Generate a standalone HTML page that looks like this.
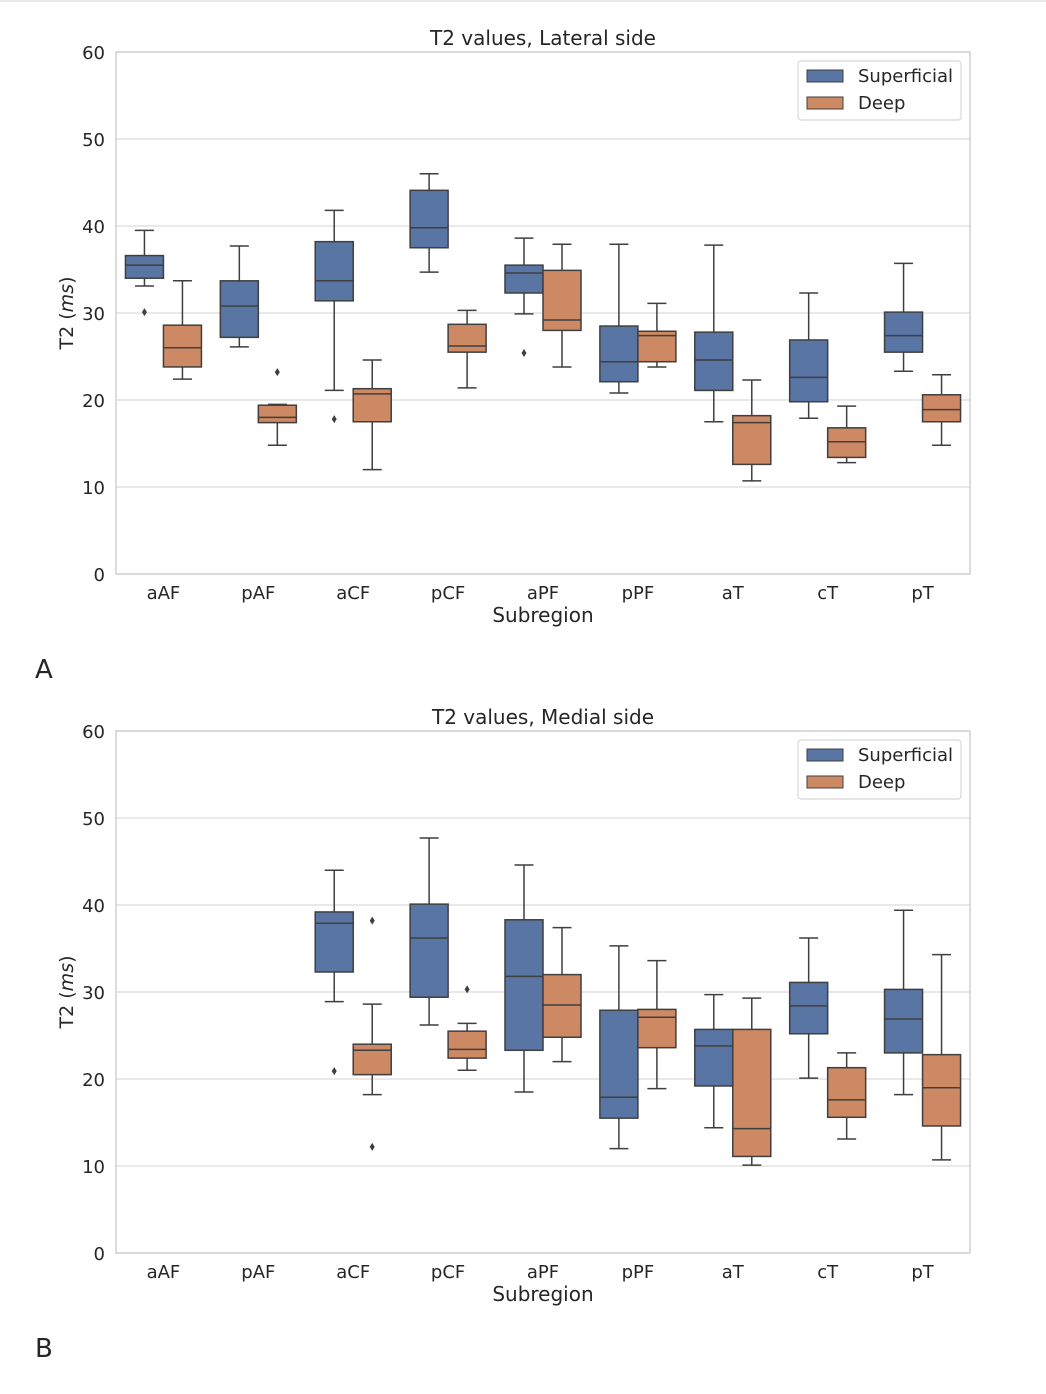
<!DOCTYPE html>
<html><head><meta charset="utf-8"><style>
body{margin:0;background:#fff;}
svg text{font-family:"DejaVu Sans","Liberation Sans",sans-serif;fill:#262626;}
</style></head><body>
<svg id="svg" width="1046" height="1389" xmlns="http://www.w3.org/2000/svg">
<rect x="0" y="0" width="1046" height="1389" fill="#fff"/>
<rect x="0" y="0" width="1046" height="2" fill="#e8e8e8"/>
<text x="35" y="678" font-size="26">A</text>
<text x="35" y="1357" font-size="26">B</text>
</svg>
<script>
const categories=["aAF","pAF","aCF","pCF","aPF","pPF","aT","cT","pT"];
const yTicks=[0,10,20,30,40,50,60];
// [low, q1, median, q3, high]
const latSup=[[33.1,34.0,35.5,36.6,39.5],[26.1,27.2,30.8,33.7,37.7],[21.1,31.4,33.7,38.2,41.8],[34.7,37.5,39.8,44.1,46.0],[29.9,32.3,34.6,35.5,38.6],[20.8,22.1,24.4,28.5,37.9],[17.5,21.1,24.6,27.8,37.8],[17.9,19.8,22.6,26.9,32.3],[23.3,25.5,27.4,30.1,35.7]];
const latDeep=[[22.4,23.8,26.0,28.6,33.7],[14.8,17.4,18.0,19.4,19.5],[12.0,17.5,20.7,21.3,24.6],[21.4,25.5,26.2,28.7,30.3],[23.8,28.0,29.2,34.9,37.9],[23.8,24.4,27.4,27.9,31.1],[10.7,12.6,17.4,18.2,22.3],[12.8,13.4,15.2,16.8,19.3],[14.8,17.5,18.9,20.6,22.9]];
const latSupOut=[[30.1],[],[17.8],[],[25.4],[],[],[],[]];
const latDeepOut=[[],[23.2],[],[],[],[],[],[],[]];
const medSup=[null,null,[28.9,32.3,37.9,39.2,44.0],[26.2,29.4,36.2,40.1,47.7],[18.5,23.3,31.8,38.3,44.6],[12.0,15.5,17.9,27.9,35.3],[14.4,19.2,23.8,25.7,29.7],[20.1,25.2,28.4,31.1,36.2],[18.2,23.0,26.9,30.3,39.4]];
const medDeep=[null,null,[18.2,20.5,23.3,24.0,28.6],[21.0,22.4,23.4,25.5,26.4],[22.0,24.8,28.5,32.0,37.4],[18.9,23.6,27.1,28.0,33.6],[10.1,11.1,14.3,25.7,29.3],[13.1,15.6,17.6,21.3,23.0],[10.7,14.6,19.0,22.8,34.3]];
const medSupOut=[[],[],[20.9],[],[],[],[],[],[]];
const medDeepOut=[[],[],[38.2,12.2],[30.3],[],[],[],[],[]];

const NS="http://www.w3.org/2000/svg";
const svg=document.getElementById('svg');
function mk(tag,attrs,parent){const e=document.createElementNS(NS,tag);for(const k in attrs)e.setAttribute(k,attrs[k]);(parent||svg).appendChild(e);return e;}
const X0=116,X1=970,BW=(X1-X0)/categories.length;
function drawChart(top,title,sup,deep,supOut,deepOut,key){
  const bottom=top+522;
  const y=v=>bottom-(v/60)*(bottom-top);
  const xc=i=>X0+BW*(i+0.5);
  const g=mk('g',{});
  
  
  yTicks.forEach(t=>{
    const l=mk('line',{x1:X0,x2:X1,y1:y(t),y2:y(t),stroke:'#dcdcdc','stroke-width':1.2},g);
    
    
    const tx=mk('text',{x:105,y:y(t)+7,'font-size':18,'text-anchor':'end'},g);
    tx.textContent=t;
    
    
  });
  const fr=mk('rect',{x:X0,y:top,width:X1-X0,height:bottom-top,fill:'none',stroke:'#d0d0d0','stroke-width':1.5},g);
  
  
  const tt=mk('text',{x:(X0+X1)/2,y:top-7,'font-size':20,'text-anchor':'middle'},g);
  tt.textContent=title;
  
  
  categories.forEach((c,i)=>{
    const tx=mk('text',{x:xc(i),y:bottom+25,'font-size':18,'text-anchor':'middle'},g);
    tx.textContent=c;
    
    
  });
  const xl=mk('text',{x:(X0+X1)/2,y:bottom+48,'font-size':20,'text-anchor':'middle'},g);
  xl.textContent='Subregion';
  
  
  const yl=mk('text',{x:0,y:0,'font-size':19,'text-anchor':'middle',transform:`translate(73,${(top+bottom)/2}) rotate(-90)`},g);
  yl.innerHTML='T2 (<tspan font-style="italic">ms</tspan>)';
  
  
  const bw=38,edge='#3f3f3f';
  function box(s,cx,fill,outs,name){
    if(!s)return;
    const bg=mk('g',{},g);
    
    
    mk('line',{x1:cx,x2:cx,y1:y(s[0]),y2:y(s[1]),stroke:edge,'stroke-width':1.5},bg);
    mk('line',{x1:cx,x2:cx,y1:y(s[3]),y2:y(s[4]),stroke:edge,'stroke-width':1.5},bg);
    mk('line',{x1:cx-bw/4,x2:cx+bw/4,y1:y(s[0]),y2:y(s[0]),stroke:edge,'stroke-width':1.5},bg);
    mk('line',{x1:cx-bw/4,x2:cx+bw/4,y1:y(s[4]),y2:y(s[4]),stroke:edge,'stroke-width':1.5},bg);
    mk('rect',{x:cx-bw/2,y:y(s[3]),width:bw,height:y(s[1])-y(s[3]),fill:fill,stroke:edge,'stroke-width':1.5},bg);
    mk('line',{x1:cx-bw/2,x2:cx+bw/2,y1:y(s[2]),y2:y(s[2]),stroke:edge,'stroke-width':1.5},bg);
    outs.forEach(o=>{
      const p=mk('path',{d:`M${cx},${y(o)-4} L${cx+2.5},${y(o)} L${cx},${y(o)+4} L${cx-2.5},${y(o)} Z`,fill:edge},bg);
      
      
    });
  }
  categories.forEach((c,i)=>{
    box(sup[i],xc(i)-bw/2,'#5975a4',supOut[i],'box-superficial-'+c);
    box(deep[i],xc(i)+bw/2,'#cc8963',deepOut[i],'box-deep-'+c);
  });
  const lg=mk('g',{},g);
  
  
  mk('rect',{x:798,y:top+9,width:163,height:59,rx:3,fill:'#fff',stroke:'#d8d8d8','stroke-width':1.2},lg);
  [['Superficial','#5975a4'],['Deep','#cc8963']].forEach((e,k)=>{
    const eg=mk('g',{},lg);
    
    
    mk('rect',{x:807,y:top+18+k*27,width:36,height:12,fill:e[1],stroke:edge,'stroke-width':1},eg);
    const t=mk('text',{x:858,y:top+30+k*27,'font-size':18},eg);
    t.textContent=e[0];
  });
}
drawChart(52,'T2 values, Lateral side',latSup,latDeep,latSupOut,latDeepOut,'lateral');
drawChart(731,'T2 values, Medial side',medSup,medDeep,medSupOut,medDeepOut,'medial');
</script>
</body></html>
